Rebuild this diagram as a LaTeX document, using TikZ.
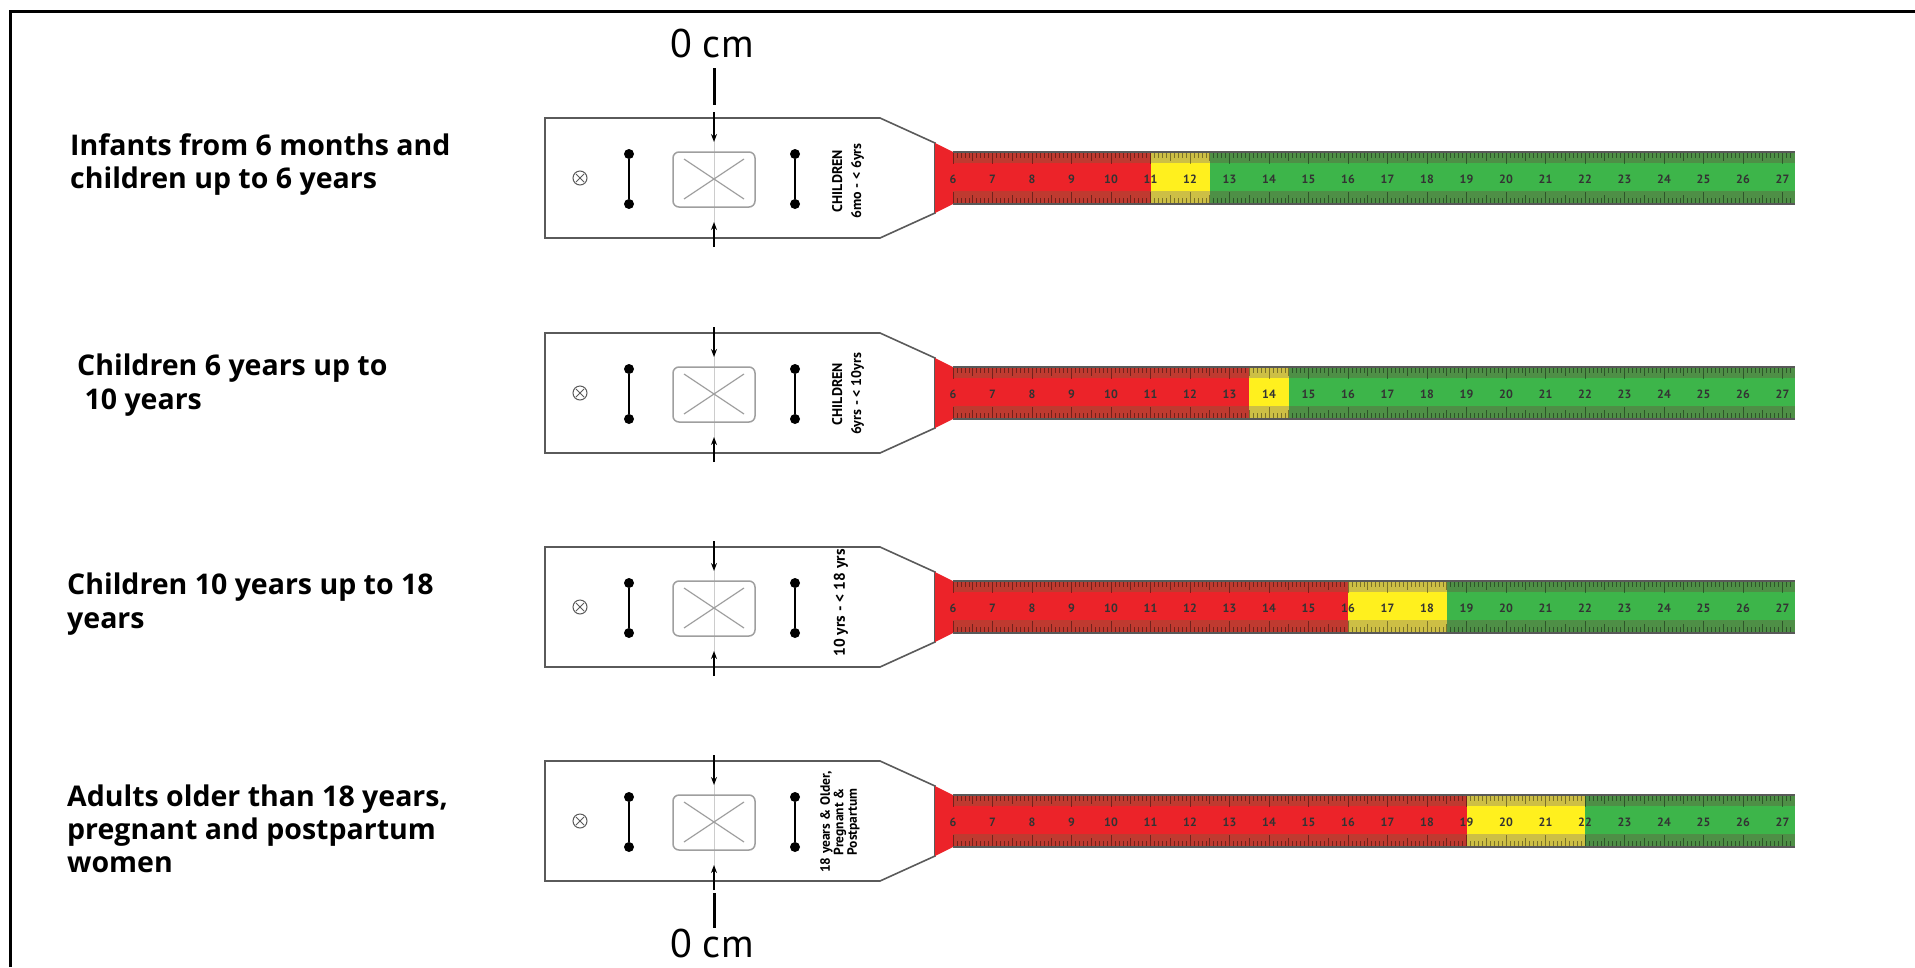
\documentclass[tikz,border=0pt]{standalone}
\usepackage{fontspec}
\setmainfont{PT Sans}
\newfontfamily\labfont{Open Sans}
\usetikzlibrary{arrows.meta}
\definecolor{tred}{HTML}{EC2329}
\definecolor{tredd}{HTML}{BF3A30}
\definecolor{tyel}{HTML}{FFF01E}
\definecolor{tyeld}{HTML}{CDBF45}
\definecolor{tgrn}{HTML}{3DB54A}
\definecolor{tgrnd}{HTML}{4E8F46}
\definecolor{headgray}{HTML}{5A5A5A}
\begin{document}
\begin{tikzpicture}[x=1pt,y=-1pt,
  lab/.style={anchor=base west, inner sep=0pt, font=\labfont\bfseries\fontsize{28.5}{33}\selectfont},
  zero/.style={anchor=base, inner sep=0pt, font=\fontsize{40}{40}\selectfont},
  tnum/.style={inner sep=0pt, font=\bfseries\fontsize{12}{12}\selectfont, text=black!80},
  headtxt/.style={rotate=90, inner sep=0pt, align=center, font=\bfseries\fontsize{14}{19}\selectfont},
  headline/.style={draw=headgray, line width=1.6pt, fill=white, line join=miter},
  arr/.style={line width=1.3pt, -{Stealth[length=8pt,width=6pt]}},
  bar/.style={line width=3pt},
  pin/.style={line width=2.6pt},
  dot/.style={fill=black},
  boxst/.style={draw=gray!75, line width=1.5pt, rounded corners=6pt},
  crossst/.style={draw=gray!75, line width=1.2pt},
  tick/.style={draw=black, opacity=0.4, line width=0.6pt}]
\useasboundingbox (0,0) rectangle (1915,967);
% frame
\draw[line width=3pt] (10,967) -- (10,11) -- (1915,11);

% left labels
\node[lab] (l1a) at (70,155) {Infants from 6 months and};
\node[lab] (l1b) at (70,188) {children up to 6 years};
\node[lab] (l2a) at (77,375) {Children 6 years up to};
\node[lab] (l2b) at (77,409) {\ 10 years};
\node[lab] (l3a) at (67,594) {Children 10 years up to 18};
\node[lab] (l3b) at (67,628) {years};
\node[lab] (l4a) at (67,806) {Adults older than 18 years,};
\node[lab] (l4b) at (67,839) {pregnant and postpartum};
\node[lab] (l4c) at (67,872) {women};

% tapes
\foreach \i/\c/\ys/\ye in {1/178/11/12.5,2/393/13.5/14.5,3/607/16/18.5,4/821/19/22}{
  \pgfmathsetmacro{\xa}{953+(\ys-6)*39.5}
  \pgfmathsetmacro{\xb}{953+(\ye-6)*39.5}
  \pgfmathsetmacro{\yT}{\c-26}
  \pgfmathsetmacro{\yB}{\c+26}
  % head
  \draw[headline] (545,{\c-60}) -- (880,{\c-60}) -- (935,{\c-35}) -- (935,{\c+35}) -- (880,{\c+60}) -- (545,{\c+60}) -- cycle;
  % tip
  \fill[tred] (935,{\c-35}) -- (953,\yT) -- (953,\yB) -- (935,{\c+35}) -- cycle;
  % colour segments
  \fill[tredd] (953,\yT) rectangle (\xa,\yB);
  \fill[tred] (953,{\c-15}) rectangle (\xa,{\c+13});
  \fill[tyeld] (\xa,\yT) rectangle (\xb,\yB);
  \fill[tyel] (\xa,{\c-15}) rectangle (\xb,{\c+13});
  \fill[tgrnd] (\xb,\yT) rectangle (1795,\yB);
  \fill[tgrn] (\xb,{\c-15}) rectangle (1795,{\c+13});
  % ticks
  \foreach \k in {0,...,212}{
    \pgfmathsetmacro{\xx}{953+\k*3.95}
    \pgfmathsetmacro{\tl}{ifthenelse(mod(\k,10)==0,12,ifthenelse(mod(\k,5)==0,9,6))}
    \draw[tick] (\xx,\yT) -- ++(0,\tl);
    \draw[tick] (\xx,\yB) -- ++(0,-\tl);
  }
  \draw[black!65, line width=1.2pt] (953,\yT) -- (1795,\yT);
  \draw[black!65, line width=1.2pt] (953,\yB) -- (1795,\yB);
  % numbers
  \foreach \n in {6,...,27}{
    \node[tnum] (n\i-\n) at ({953+(\n-6)*39.5},{\c+1}) {\n};
  }
  % centre line
  \draw[gray!40, line width=0.8pt] (714,{\c-60}) -- (714,{\c+60});
  % symbol
  \node[circle, draw=headgray, line width=1pt, minimum size=14pt, inner sep=0pt] (sym\i) at (580,\c) {};
  \draw[headgray, line width=0.9pt] (576,{\c-4}) -- (584,{\c+4}) (576,{\c+4}) -- (584,{\c-4});
  % pins
  \node[circle, dot, inner sep=0pt, minimum size=10pt] (pla\i) at (629,{\c-24}) {};
  \node[circle, dot, inner sep=0pt, minimum size=10pt] (plb\i) at (629,{\c+26}) {};
  \draw[pin] (pla\i) -- (plb\i);
  \node[circle, dot, inner sep=0pt, minimum size=10pt] (pra\i) at (795,{\c-24}) {};
  \node[circle, dot, inner sep=0pt, minimum size=10pt] (prb\i) at (795,{\c+26}) {};
  \draw[pin] (pra\i) -- (prb\i);
  % window box
  \draw[boxst] (673,{\c-26}) rectangle (755,{\c+29});
  \draw[crossst] (684,{\c-19}) -- (744,{\c+21}) (684,{\c+21}) -- (744,{\c-19});
  % arrows
  \coordinate (at\i) at (714,{\c-66});
  \coordinate (ate\i) at (714,{\c-36});
  \coordinate (ab\i) at (714,{\c+69});
  \coordinate (abe\i) at (714,{\c+44});
  \draw[arr] (at\i) -- (ate\i);
  \draw[arr] (ab\i) -- (abe\i);
}

% head texts
\node[headtxt] (h1) at (848,181) {CHILDREN\\6mo - < 6yrs};
\node[headtxt] (h2) at (848,394) {CHILDREN\\6yrs - < 10yrs};
\node[headtxt, font=\bfseries\fontsize{15.5}{19}\selectfont] (h3) at (841,603) {10 yrs - < 18 yrs};
\node[headtxt, font=\bfseries\fontsize{13.5}{13.5}\selectfont] (h4) at (840,822) {18 years \& Older,\\Pregnant \&\\Postpartum};

% 0 cm markers
\node[zero] (zt) at (712,57) {0 cm};
\coordinate (zta) at (714,68);
\coordinate (ztb) at (714,105);
\draw[bar] (zta) -- (ztb);
\node[zero] (zb) at (712,957) {0 cm};
\coordinate (zba) at (714,893);
\coordinate (zbb) at (714,928);
\draw[bar] (zba) -- (zbb);
\end{tikzpicture}
\end{document}
